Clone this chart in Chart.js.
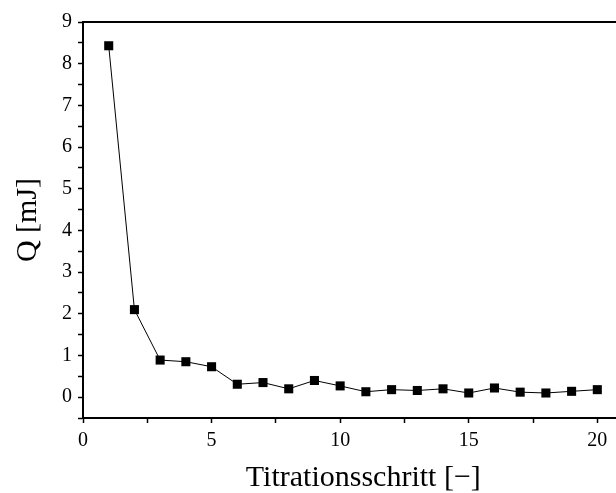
<!DOCTYPE html>
<html><head><meta charset="utf-8">
<script src="https://cdn.jsdelivr.net/npm/chart.js@4/dist/chart.umd.min.js"></script>
<style>html,body{margin:0;padding:0;background:#fff;overflow:hidden}#wrap{width:616px;height:493px;overflow:hidden}</style>
</head><body><div id="wrap"><canvas id="c" width="650" height="493" style="width:650px;height:493px"></canvas></div>
<script>
const steps = [1,2,3,4,5,6,7,8,9,10,11,12,13,14,15,16,17,18,19,20];
const qValues = [8.43,2.1,0.89,0.85,0.73,0.31,0.35,0.2,0.4,0.27,0.13,0.18,0.16,0.2,0.1,0.22,0.12,0.1,0.14,0.18];
const xTickLabels = [0,5,10,15,20];
const yTickLabels = [0,1,2,3,4,5,6,7,8,9];
const xTitle = 'Titrationsschritt [\u2212]';
const yTitle = 'Q [mJ]';

const FONT = "'Liberation Serif', 'DejaVu Serif', serif";
const topLine = {
  id:'topLine',
  afterDraw(chart){
    const {ctx, chartArea} = chart;
    ctx.save();
    ctx.strokeStyle='#000'; ctx.lineWidth=2;
    ctx.beginPath(); ctx.moveTo(chartArea.left-1, chartArea.top); ctx.lineTo(chartArea.right, chartArea.top); ctx.stroke();
    ctx.restore();
  }
};
new Chart(document.getElementById('c'), {
  type:'line',
  data:{ datasets:[{
    data: steps.map((s,i)=>({x:s,y:qValues[i]})),
    borderColor:'#000', borderWidth:1, backgroundColor:'#000',
    pointStyle:'rect', pointRadius:6.4, pointHoverRadius:6.4, pointBorderWidth:0,
    tension:0, clip:false
  }]},
  options:{
    responsive:false, animation:false, devicePixelRatio:1,
    layout:{padding:{top:22,right:0,left:0,bottom:0}},
    plugins:{legend:{display:false},tooltip:{enabled:false}},
    scales:{
      x:{type:'linear', min:0, max:21.8,
        afterBuildTicks(s){ s.ticks=[]; for(let v=0; v<=21.8; v+=2.5) s.ticks.push({value:v}); },
        afterFit(s){ s.height=75; },
        ticks:{ callback:v=> xTickLabels.includes(v)? String(v):'', color:'#000', font:{family:FONT,size:20}, padding:6, maxRotation:0, autoSkip:false },
        grid:{ drawOnChartArea:false, tickLength:5, color:'#000', tickWidth:1.5 },
        border:{ color:'#000', width:2 },
        title:{ display:true, text:xTitle, color:'#000', font:{family:FONT,size:30,lineHeight:1}, padding:{top:0,bottom:0} }
      },
      y:{ min:-0.5, max:9,
        afterBuildTicks(s){ s.ticks=[]; for(let v=-0.5; v<=9; v+=0.5) s.ticks.push({value:v}); },
        afterFit(s){ s.width=83; },
        ticks:{ callback:v=> yTickLabels.includes(v)? String(v):'', color:'#000', font:{family:FONT,size:20}, padding:6, autoSkip:false },
        grid:{ drawOnChartArea:false, tickLength:5, color:'#000', tickWidth:1.5 },
        border:{ color:'#000', width:2 },
        title:{ display:true, text:yTitle, color:'#000', font:{family:FONT,size:30,lineHeight:1}, padding:{top:13,bottom:0} }
      }
    }
  },
  plugins:[topLine]
});
</script></body></html>
